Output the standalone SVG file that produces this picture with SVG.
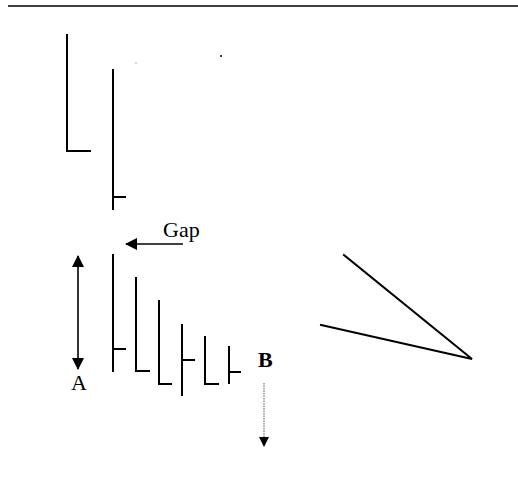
<svg xmlns="http://www.w3.org/2000/svg" width="518" height="501" viewBox="0 0 518 501">
<defs>
<style>
.ln{stroke:#000;stroke-width:2;fill:none;stroke-linecap:square}
.thin{stroke:#000;stroke-width:1.6;fill:none}
.txt{font-family:"Liberation Serif","Times New Roman",serif;fill:#000}
</style>
<marker id="ah" viewBox="0 0 12 12" refX="11" refY="6" markerWidth="13" markerHeight="12" markerUnits="userSpaceOnUse" orient="auto-start-reverse">
<path d="M0,0 L12,6 L0,12 Z" fill="#000"/>
</marker>
<marker id="ahs" viewBox="0 0 10 10" refX="9" refY="5" markerWidth="10" markerHeight="10" markerUnits="userSpaceOnUse" orient="auto">
<path d="M0,0 L10,5 L0,10 Z" fill="#000"/>
</marker>
</defs>
<rect width="518" height="501" fill="#fff"/>
<line x1="8" y1="6" x2="518" y2="6" stroke="#000" stroke-width="1.5"/>
<circle cx="136" cy="63" r="0.7" fill="#888"/>
<circle cx="221" cy="56" r="1" fill="#000"/>
<g id="bar-top1"><path class="ln" d="M67,35 V151 H90"/></g>
<g id="bar-top2"><path class="ln" d="M113,70 V209 M113,197 H125"/></g>
<g id="bar1"><path class="ln" d="M113,255 V371 M113,349 H125"/></g>
<g id="bar2"><path class="ln" d="M136,278 V371 H149"/></g>
<g id="bar3"><path class="ln" d="M159,301 V384 H171"/></g>
<g id="bar4"><path class="ln" d="M182,325 V395 M182,360 H194"/></g>
<g id="bar5"><path class="ln" d="M205,337 V384 H218"/></g>
<g id="bar6"><path class="ln" d="M229,347 V383 M229,372 H240"/></g>
<g id="wedge"><path class="ln" d="M344,255 L472,359 L321,325"/></g>
<g id="label-gap"><text class="txt" x="163" y="237" font-size="22">Gap</text></g>
<g id="label-a"><text class="txt" x="71" y="390" font-size="22">A</text></g>
<g id="label-b"><text class="txt" x="258" y="367" font-size="22" font-weight="bold">B</text></g>
<g id="connectors">
<line class="thin" x1="183" y1="244" x2="126" y2="244" marker-end="url(#ah)"/>
<line class="thin" x1="78" y1="256" x2="78" y2="369" marker-start="url(#ah)" marker-end="url(#ah)"/>
<line x1="264" y1="383" x2="264" y2="446" stroke="#555" stroke-width="1" stroke-dasharray="1.5,1" marker-end="url(#ahs)"/>
</g>
</svg>
